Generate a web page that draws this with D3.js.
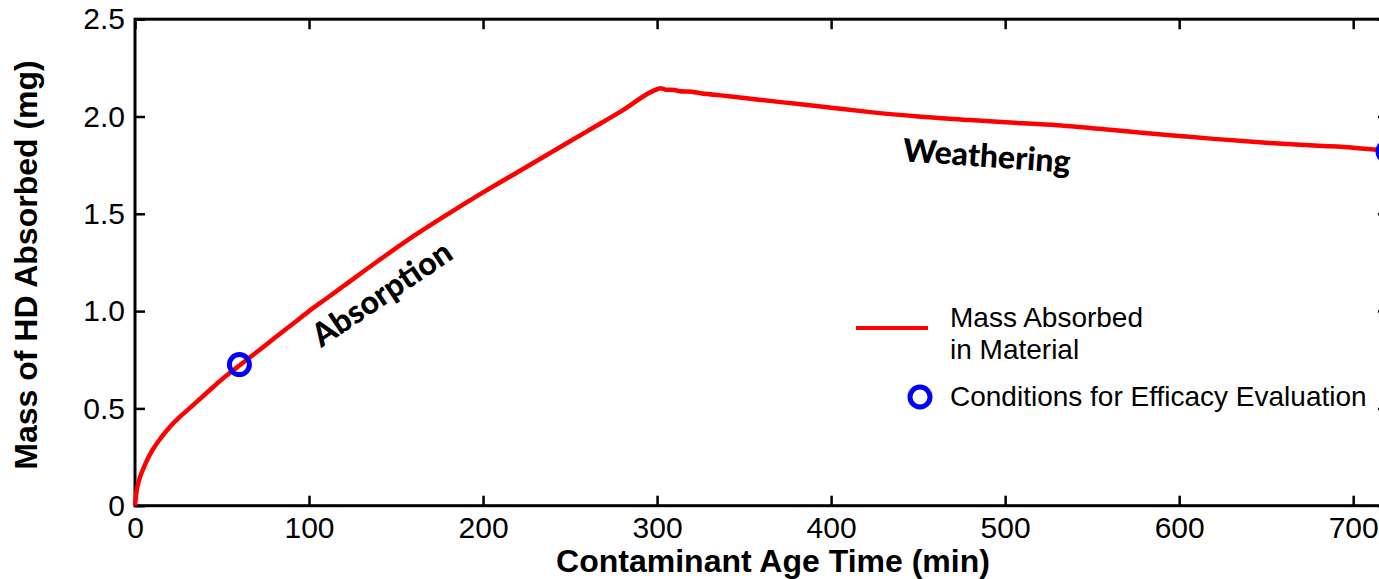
<!DOCTYPE html>
<html>
<head>
<meta charset="utf-8">
<script src="https://cdn.jsdelivr.net/npm/d3@7"></script>
<style>
  html, body { margin: 0; padding: 0; background: #fff; }
  svg { display: block; }
</style>
</head>
<body>
<svg id="chart" width="1379" height="579"></svg>
<script>
// ---- data ----
const timeMin = [0, 1, 2, 3, 5, 7, 10, 15, 20, 25, 30, 40, 50, 60, 70, 80, 90, 100, 110, 120, 140, 160, 180, 200, 220, 240, 260, 280, 300, 302, 305, 310, 313, 318, 325, 340, 360, 380, 400, 420, 450, 480, 500, 530, 560, 580, 600, 620, 650, 680, 700, 720];
const massAbsorbed = [0, 0.08, 0.12, 0.15, 0.195, 0.235, 0.285, 0.35, 0.405, 0.45, 0.49, 0.57, 0.65, 0.72, 0.79, 0.86, 0.93, 1.00, 1.065, 1.13, 1.26, 1.385, 1.50, 1.61, 1.715, 1.82, 1.925, 2.03, 2.14, 2.145, 2.138, 2.136, 2.130, 2.128, 2.120, 2.105, 2.085, 2.065, 2.045, 2.025, 2.00, 1.982, 1.97, 1.955, 1.932, 1.915, 1.90, 1.885, 1.865, 1.85, 1.84, 1.823];
const efficacyTime = [60, 720];
const efficacyMass = [0.725, 1.82];
const xTicks = [0, 100, 200, 300, 400, 500, 600, 700];
const yTicks = [0, 0.5, 1.0, 1.5, 2.0, 2.5];
const xTitle = "Contaminant Age Time (min)";
const yTitle = "Mass of HD Absorbed (mg)";
const legendLabels = [["Mass Absorbed", "in Material"], ["Conditions for Efficacy Evaluation"]];
const annotations = ["Absorption", "Weathering"];

// ---- layout ----
const svg = d3.select("#chart");
const L = 135, R = 1388, T = 19.2, B = 505.7;
const x = d3.scaleLinear().domain([0, 720]).range([L, R]);
const y = d3.scaleLinear().domain([0, 2.5]).range([B, T]);
const tickFont = "'Liberation Sans', Arial, sans-serif";

function styleAxis(g) {
  g.select(".domain").remove();
  g.selectAll(".tick line").attr("stroke", "#000").attr("stroke-width", 2.5);
  g.selectAll(".tick text").attr("fill", "#000").style("font-family", tickFont).style("font-size", "30px");
}

const fmtY = d => d === 0 ? "0" : d3.format(".1f")(d);

svg.append("g").attr("transform", `translate(0,${B})`)
  .call(d3.axisBottom(x).tickValues(xTicks).tickSizeInner(-10).tickSizeOuter(0).tickPadding(11).tickFormat(d3.format("d")))
  .call(styleAxis);
svg.append("g").attr("transform", `translate(0,${T})`)
  .call(d3.axisTop(x).tickValues(xTicks).tickSizeInner(-10).tickSizeOuter(0).tickFormat(""))
  .call(styleAxis);
svg.append("g").attr("transform", `translate(${L},0)`)
  .call(d3.axisLeft(y).tickValues(yTicks).tickSizeInner(-10).tickSizeOuter(0).tickPadding(10).tickFormat(fmtY))
  .call(styleAxis);
svg.append("g").attr("transform", `translate(${R},0)`)
  .call(d3.axisRight(y).tickValues(yTicks).tickSizeInner(-10).tickSizeOuter(0).tickFormat(""))
  .call(styleAxis);

// frame
svg.append("rect").attr("x", L).attr("y", T).attr("width", R - L).attr("height", B - T)
  .attr("fill", "none").attr("stroke", "#000").attr("stroke-width", 3);

// line
const pts = timeMin.map((t, i) => [t, massAbsorbed[i]]);
svg.append("path").datum(pts)
  .attr("fill", "none").attr("stroke", "#ff0000").attr("stroke-width", 4.5)
  .attr("stroke-linejoin", "round")
  .attr("d", d3.line().curve(d3.curveMonotoneX).x(d => x(d[0])).y(d => y(d[1])));

// efficacy circles
svg.selectAll("circle.eff").data(efficacyTime.map((t, i) => [t, efficacyMass[i]])).enter()
  .append("circle").attr("class", "eff")
  .attr("cx", d => x(d[0])).attr("cy", d => y(d[1])).attr("r", 10)
  .attr("fill", "none").attr("stroke", "#0000ff").attr("stroke-width", 5);

// annotations
const annFont = "Lato, 'Open Sans', sans-serif";
svg.append("text").text(annotations[0])
  .attr("transform", "translate(388,303) rotate(-34)")
  .attr("text-anchor", "middle")
  .style("font-family", annFont).style("font-weight", "900").style("font-size", "32px").attr("fill", "#000");
svg.append("text").text(annotations[1])
  .attr("transform", "translate(986,167) rotate(4)")
  .attr("text-anchor", "middle")
  .style("font-family", annFont).style("font-weight", "900").style("font-size", "32px").attr("fill", "#000");

// legend
const lg = svg.append("g");
lg.append("line").attr("x1", 856).attr("x2", 928).attr("y1", 328).attr("y2", 328)
  .attr("stroke", "#ff0000").attr("stroke-width", 4);
lg.append("text").attr("x", 950).attr("y", 327).text(legendLabels[0][0])
  .style("font-family", tickFont).style("font-size", "28px").attr("fill", "#000");
lg.append("text").attr("x", 950).attr("y", 359).text(legendLabels[0][1])
  .style("font-family", tickFont).style("font-size", "28px").attr("fill", "#000");
lg.append("circle").attr("cx", 920).attr("cy", 397).attr("r", 10)
  .attr("fill", "none").attr("stroke", "#0000ff").attr("stroke-width", 5);
lg.append("text").attr("x", 950).attr("y", 406).text(legendLabels[1][0])
  .style("font-family", tickFont).style("font-size", "28px").attr("fill", "#000");

// axis titles
svg.append("text").text(xTitle).attr("x", 773).attr("y", 572).attr("text-anchor", "middle")
  .style("font-family", tickFont).style("font-weight", "bold").style("font-size", "32px").attr("fill", "#000");
svg.append("text").text(yTitle).attr("transform", "translate(37,265) rotate(-90)").attr("text-anchor", "middle")
  .style("font-family", tickFont).style("font-weight", "bold").style("font-size", "32px").attr("fill", "#000");
</script>
</body>
</html>
